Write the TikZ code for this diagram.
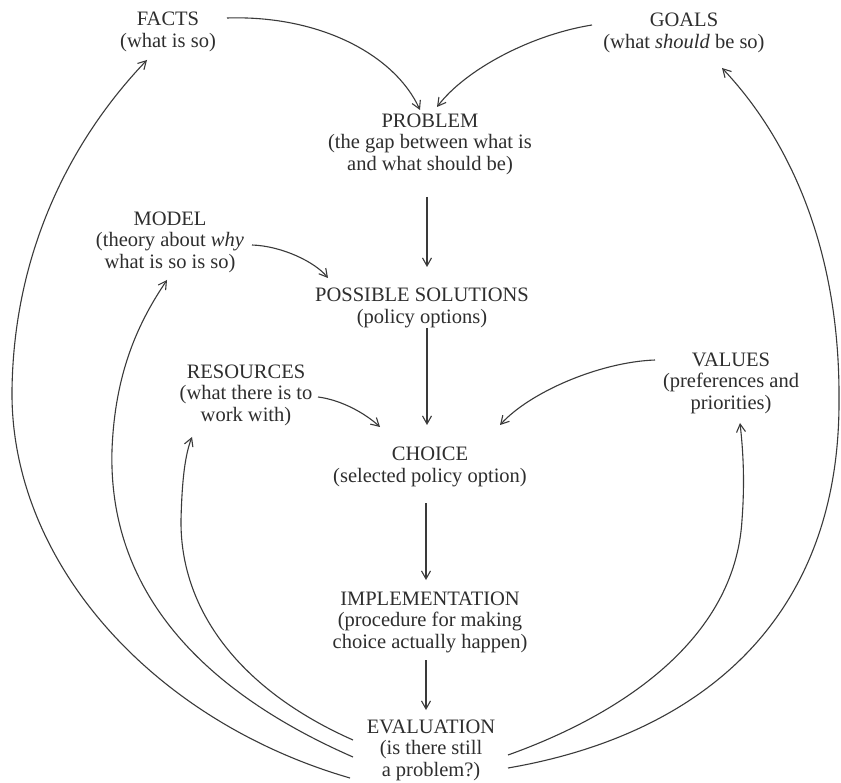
\documentclass[tikz,border=0pt]{standalone}
\usepackage{fontspec}
\setmainfont{Liberation Serif}
\usetikzlibrary{arrows.meta,calc}
\definecolor{txt}{HTML}{2E2E2E}
\definecolor{ln}{HTML}{3A3A3A}
\begin{document}
\begin{tikzpicture}[x=1pt,y=-1pt,
  lbl/.style={inner sep=0pt, align=center, text=txt, font=\fontsize{20.5}{21.5}\selectfont},
  conn/.style={draw=ln, line width=1.1pt, -{Straight Barb[length=8pt,width=9pt,line width=1.1pt]}}]
\useasboundingbox (0,0) rectangle (841,783);
\fill[white] (0,0) rectangle (841,783);

\node[lbl] (facts) at (168,32) {FACTS\\(what is so)};
\node[lbl] (goals) at (684,33) {GOALS\\(what \textit{should} be so)};
\node[lbl] (problem) at (430,144) {PROBLEM\\(the gap between what is\\and what should be)};
\node[lbl] (model) at (170,242) {MODEL\\(theory about \textit{why}\\what is so is so)};
\node[lbl] (possible) at (422,308) {POSSIBLE SOLUTIONS\\(policy options)};
\node[lbl] (resources) at (246,395) {RESOURCES\\(what there is to\\work with)};
\node[lbl] (values) at (731,383) {VALUES\\(preferences and\\priorities)};
\node[lbl] (choice) at (430,467) {CHOICE\\(selected policy option)};
\node[lbl] (impl) at (430,622) {IMPLEMENTATION\\(procedure for making\\choice actually happen)};
\node[lbl] (eval) at (431,750) {EVALUATION\\(is there still\\a problem?)};

% inputs to problem
\draw[conn] ($(facts)+(59,-14)$) .. controls (320,15) and (395,55) .. ($(problem)+(-10,-34)$);
\draw[conn] ($(goals)+(-92,-8)$) .. controls (530,35) and (465,70) .. ($(problem)+(7,-37)$);
% main chain
\draw[conn] ($(problem)+(-3,53)$) -- ($(possible)+(5,-41)$);
\draw[conn] ($(model)+(82,3)$) .. controls (282,246) and (315,262) .. ($(possible)+(-94,-30)$);
\draw[conn] ($(possible)+(5,20)$) -- ($(choice)+(-3,-42)$);
\draw[conn] ($(resources)+(72,2)$) .. controls (342,400) and (366,414) .. ($(choice)+(-50,-40)$);
\draw[conn] ($(values)+(-76,-23)$) .. controls (600,362) and (530,392) .. ($(choice)+(70,-42)$);
\draw[conn] ($(choice)+(-4,36)$) -- ($(impl)+(-4,-42)$);
\draw[conn] ($(impl)+(-4,38)$) -- ($(eval)+(-5,-40)$);
% feedback loops from evaluation
\draw[conn] ($(eval)+(-81,28)$) .. controls (150,720) and (10,560) .. (12,390)
   .. controls (14,240) and (80,130) .. ($(facts)+(-21,28)$);
\draw[conn] ($(eval)+(-78,7)$) .. controls (200,690) and (108,590) .. (112,450)
   .. controls (115,370) and (140,320) .. ($(model)+(-3,38)$);
\draw[conn] ($(eval)+(-78,-10)$) .. controls (240,690) and (180,610) .. (181,520)
   .. controls (182,480) and (185,455) .. ($(resources)+(-54,42)$);
\draw[conn] ($(eval)+(77,5)$) .. controls (620,715) and (735,640) .. (742,520)
   .. controls (745,480) and (743,450) .. ($(values)+(9,40)$);
\draw[conn] ($(eval)+(77,18)$) .. controls (700,735) and (840,620) .. (839,400)
   .. controls (840,250) and (790,140) .. ($(goals)+(38,35)$);
\end{tikzpicture}
\end{document}
